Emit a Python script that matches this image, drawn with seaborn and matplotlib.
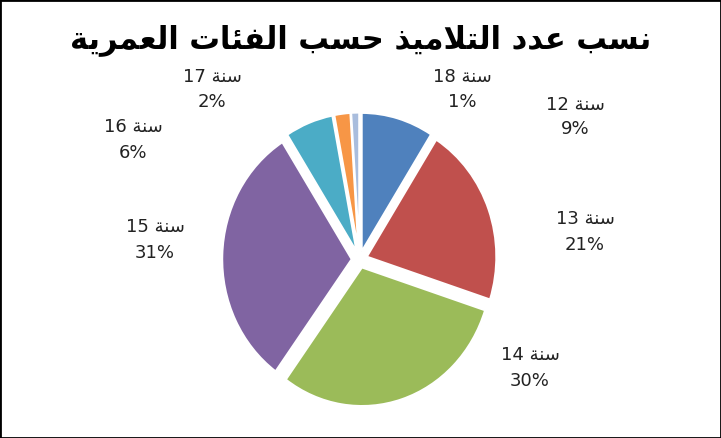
import matplotlib
matplotlib.use("Agg")
import matplotlib.pyplot as plt
import seaborn as sns

ages = ["12", "13", "14", "15", "16", "17", "18"]
shares = [9, 21, 30, 31, 6, 2, 1]
colors = ["#4F81BD", "#C0504D", "#9BBB59", "#8064A2", "#4BACC6", "#F79646", "#A9BDDD"]
title_txt = "نسب عدد التلاميذ حسب الفئات العمرية"
year_word = "سنة"
# label anchor points in figure pixels (layout only)
label_px = [(575, 117), (585, 232), (530, 368), (155, 240), (133, 140), (212, 90), (462, 90)]

# tiny arabic shaper (matplotlib has no RTL shaping)
FORMS = {
    "ا": (0xFE8D, 0xFE8E, None, None), "ب": (0xFE8F, 0xFE90, 0xFE91, 0xFE92),
    "ت": (0xFE95, 0xFE96, 0xFE97, 0xFE98), "ة": (0xFE93, 0xFE94, None, None),
    "ح": (0xFEA1, 0xFEA2, 0xFEA3, 0xFEA4), "د": (0xFEA9, 0xFEAA, None, None),
    "ذ": (0xFEAB, 0xFEAC, None, None), "ر": (0xFEAD, 0xFEAE, None, None),
    "س": (0xFEB1, 0xFEB2, 0xFEB3, 0xFEB4), "ع": (0xFEC9, 0xFECA, 0xFECB, 0xFECC),
    "ف": (0xFED1, 0xFED2, 0xFED3, 0xFED4), "ل": (0xFEDD, 0xFEDE, 0xFEDF, 0xFEE0),
    "م": (0xFEE1, 0xFEE2, 0xFEE3, 0xFEE4), "ن": (0xFEE5, 0xFEE6, 0xFEE7, 0xFEE8),
    "ي": (0xFEF1, 0xFEF2, 0xFEF3, 0xFEF4), "ئ": (0xFE89, 0xFE8A, 0xFE8B, 0xFE8C),
    "لا": (0xFEFB, 0xFEFC, None, None),
}


def shape_word(w):
    toks = []
    i = 0
    while i < len(w):
        if w[i] == "ل" and i + 1 < len(w) and w[i + 1] == "ا":
            toks.append("لا")
            i += 2
        else:
            toks.append(w[i])
            i += 1
    out = []
    for k, t in enumerate(toks):
        f = FORMS[t]
        prev_joins = k > 0 and FORMS[toks[k - 1]][2] is not None
        joins_next = k < len(toks) - 1 and f[2] is not None
        if prev_joins and joins_next:
            c = f[3]
        elif prev_joins:
            c = f[1]
        elif joins_next:
            c = f[2]
        else:
            c = f[0]
        out.append(chr(c))
    return "".join(reversed(out))


def shape(s):
    return " ".join(shape_word(w) for w in reversed(s.split(" ")))


sns.set_theme(style="white")
plt.rcParams["font.family"] = "DejaVu Sans"

W, H = 721, 438
fig = plt.figure(figsize=(W / 100, H / 100), dpi=100)
ax = fig.add_axes([217 / W, 26 / H, 285 / W, 305 / H])
wedges, _ = ax.pie(
    shares, colors=colors, startangle=90, counterclock=False,
    explode=[0.06] * len(shares),
    wedgeprops=dict(edgecolor="white", linewidth=1.5),
)
ax.set_aspect("auto")
ax.set_xlim(-1.1, 1.1)
ax.set_ylim(-1.1, 1.1)

for a, v, (px, py) in zip(ages, shares, label_px):
    fig.text(px / W, 1 - py / H, f"{a} {shape(year_word)}\n{v}%", ha="center",
             va="center", fontsize=13, color="#222222", linespacing=1.5)

fig.text(0.5, 1 - 40 / H, shape(title_txt), ha="center", va="center",
         fontsize=22, fontweight="bold", color="black")
fig.patches.append(plt.Rectangle((0, 0), 1, 1, transform=fig.transFigure,
                                 fill=False, edgecolor="black", linewidth=2))
fig.savefig("out.png", dpi=100)
